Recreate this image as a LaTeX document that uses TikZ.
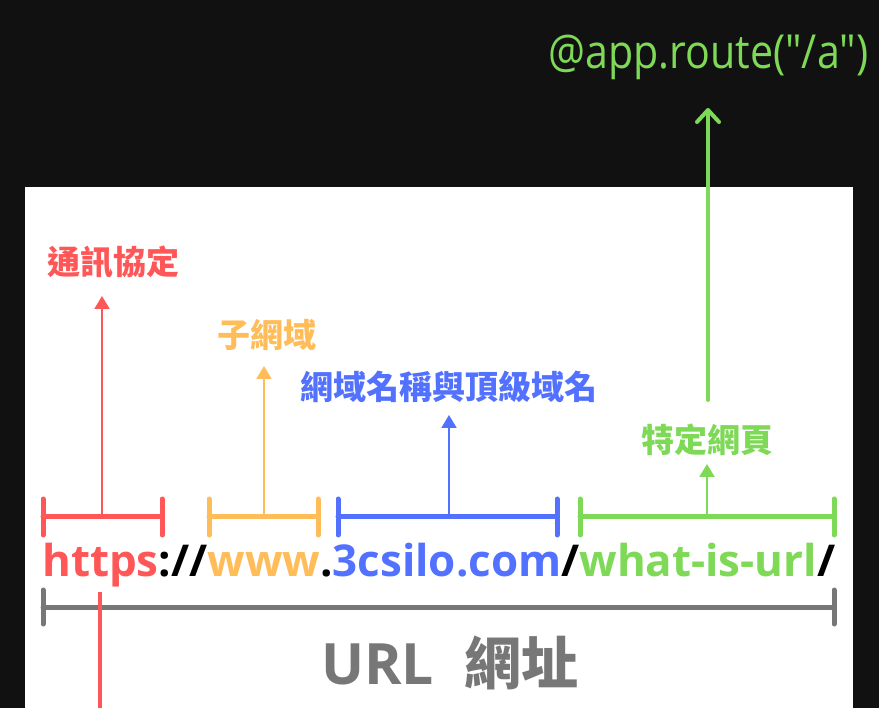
\documentclass[tikz,border=0pt]{standalone}
\usepackage{fontspec}
\usepackage{graphicx}
\setmainfont{Open Sans}
\newfontfamily\codefont{Open Sans}
\newfontfamily\cjk{Noto Sans CJK TC}
\usetikzlibrary{arrows.meta}
\definecolor{bgdark}{HTML}{111111}
\definecolor{ured}{HTML}{FF5757}
\definecolor{uorange}{HTML}{FFBD59}
\definecolor{ublue}{HTML}{5271FF}
\definecolor{ugreen}{HTML}{7ED957}
\definecolor{ugray}{HTML}{777777}
\tikzset{
  bracket/.style={line width=5pt, line cap=round},
  tick/.style={line width=5pt, line cap=round},
  thinarrow/.style={line width=2pt, -{Triangle[length=13pt,width=15pt]}},
  lbl/.style={inner sep=0pt, font=\cjk\bfseries\fontsize{33}{33}\selectfont},
}
\begin{document}
\begin{tikzpicture}[x=1pt,y=-1pt]
\fill[bgdark] (0,0) rectangle (879,708);
\useasboundingbox (0,0) rectangle (879,708);
\fill[white] (25,187) rectangle (853,708);

% top code text
\node[inner sep=0pt, anchor=west, text=ugreen] (code) at (548,57)
  {\scalebox{1}[1.14]{\resizebox{320pt}{!}{\codefont\fontsize{40}{40}\selectfont @app.route("/a")}}};

% labels
\node[lbl, text=ured, anchor=west] (lproto) at (47,262) {通訊協定};
\node[lbl, text=uorange, anchor=west] (lsub) at (217,335) {子網域};
\node[lbl, text=ublue, anchor=west] (ldom) at (300,387) {網域名稱與頂級域名};
\node[lbl, text=ugreen, anchor=west] (lpage) at (641,440) {特定網頁};

% bracket coordinates
\coordinate (rA) at (43,517); \coordinate (rB) at (162,517); \coordinate (rM) at (102,517);
\coordinate (oA) at (209,517); \coordinate (oB) at (318,517); \coordinate (oM) at (264,517);
\coordinate (bA) at (338,517); \coordinate (bB) at (557,517); \coordinate (bM) at (449,517);
\coordinate (gA) at (580,517); \coordinate (gB) at (834,517); \coordinate (gM) at (707,517);
\coordinate (kA) at (43,607); \coordinate (kB) at (834,607);

% tips
\coordinate (rT) at (102,296);
\coordinate (oT) at (264,366);
\coordinate (bT) at (449,415);
\coordinate (gT) at (707,464);

% brackets
\foreach \a/\b/\c in {rA/rB/ured, oA/oB/uorange, bA/bB/ublue, gA/gB/ugreen}{
  \draw[bracket, \c] (\a) -- (\b);
  \draw[tick, \c] ([yshift=-18pt]\a) -- ([yshift=18pt]\a);
  \draw[tick, \c] ([yshift=-18pt]\b) -- ([yshift=18pt]\b);
}
\draw[bracket, ugray] (kA) -- (kB);
\draw[tick, ugray] ([yshift=-17pt]kA) -- ([yshift=17pt]kA);
\draw[tick, ugray] ([yshift=-17pt]kB) -- ([yshift=17pt]kB);

% thin arrows
\draw[thinarrow, ured] (rM) -- (rT);
\draw[thinarrow, uorange] (oM) -- (oT);
\draw[thinarrow, ublue] (bM) -- (bT);
\draw[thinarrow, ugreen] (gM) -- (gT);

% URL text
\node[inner sep=0pt, anchor=base west] (url) at (42,577)
  {\resizebox{793pt}{!}{\bfseries\fontsize{40}{40}\selectfont
   \textcolor{ured}{https}\textcolor{black}{://}\textcolor{uorange}{www}\textcolor{black}{.}\textcolor{ublue}{3csilo.com}\textcolor{black}{/}\textcolor{ugreen}{what-is-url}\textcolor{black}{/}}};

% URL label
\node[inner sep=0pt, anchor=west, text=ugray] (urllbl) at (321,663)
  {\bfseries\fontsize{57}{57}\selectfont URL\hspace{30pt}{\cjk 網址}};

% red line going down
\coordinate (redtop) at (100,592);
\coordinate (redbot) at (100,708);
\draw[ured, line width=4pt] (redtop) -- (redbot);

% green long arrow
\coordinate (gs) at (708,400);
\coordinate (ge) at (708,108);
\draw[ugreen, line width=4pt, line cap=round, -{Straight Barb[length=12pt,width=22pt,line cap=round,line join=round]}] (gs) -- (ge);
\end{tikzpicture}
\end{document}
